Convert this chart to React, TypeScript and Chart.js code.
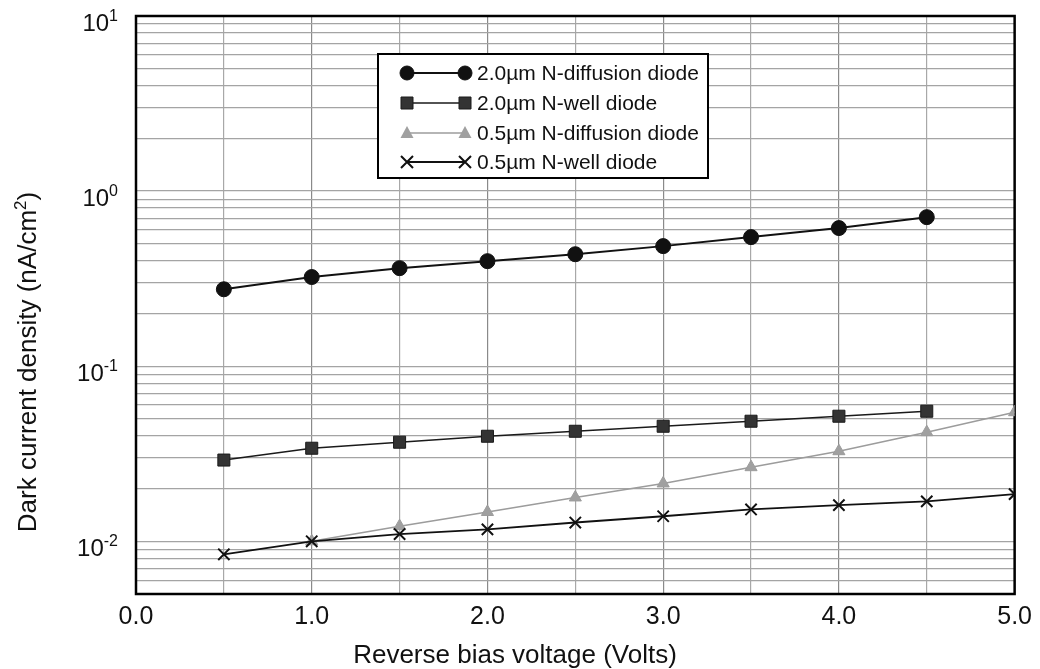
import React, { useEffect, useRef } from 'react';
import { Chart, registerables } from 'chart.js';

Chart.register(...registerables);

// ---- data ----
const voltages = [0.5, 1.0, 1.5, 2.0, 2.5, 3.0, 3.5, 4.0, 4.5, 5.0];
const nDiff20 = [0.275, 0.323, 0.363, 0.398, 0.436, 0.485, 0.546, 0.615, 0.71, null];
const nWell20 = [0.0291, 0.034, 0.0368, 0.0398, 0.0425, 0.0454, 0.0485, 0.0518, 0.0553, null];
const nDiff05 = [null, 0.0100, 0.0122, 0.0147, 0.0178, 0.0214, 0.0265, 0.0327, 0.042, 0.0546];
const nWell05 = [0.00843, 0.0100, 0.0110, 0.0117, 0.0128, 0.0139, 0.0152, 0.0161, 0.0169, 0.0186];

const seriesNames = [
  '2.0\u00b5m N-diffusion diode',
  '2.0\u00b5m N-well diode',
  '0.5\u00b5m N-diffusion diode',
  '0.5\u00b5m N-well diode',
];

const xTickValues = [0, 0.5, 1, 1.5, 2, 2.5, 3, 3.5, 4, 4.5, 5];
const yDecades = [0.01, 0.1, 1, 10];
const yDecadeExponents = ['-2', '-1', '0', '1'];
const yMinorMultipliers = [1, 2, 3, 4, 5, 6, 7, 8, 9];
const yMin = 0.005;
const yMax = 10;

const xTitle = 'Reverse bias voltage (Volts)';
const yTitleMain = 'Dark current density (nA/cm';
const yTitleSup = '2';
const yTitleEnd = ')';

const FONT = '"Liberation Sans", Arial, Helvetica, sans-serif';

function toPoints(vals: (number | null)[]) {
  const pts: { x: number; y: number }[] = [];
  vals.forEach((v, i) => {
    if (v !== null) pts.push({ x: voltages[i], y: v });
  });
  return pts;
}

function buildYTicks() {
  const t: number[] = [];
  for (let e = -3; e <= 1; e++) {
    for (const m of yMinorMultipliers) {
      const v = parseFloat((m * Math.pow(10, e)).toPrecision(6));
      if (v >= yMin - 1e-12 && v <= yMax + 1e-12) t.push(v);
    }
  }
  return t;
}

type MarkerKind = 'circle' | 'rect' | 'triangle' | 'crossRot';
const markerKinds: MarkerKind[] = ['circle', 'rect', 'triangle', 'crossRot'];
const seriesColors = ['#111111', '#1a1a1a', '#9c9c9c', '#111111'];
const markerFill = ['#111111', '#333333', '#a0a0a0', '#111111'];
const lineWidths = [2, 1.6, 1.6, 1.8];

function drawMarker(ctx: CanvasRenderingContext2D, kind: MarkerKind, x: number, y: number, i: number) {
  ctx.save();
  ctx.fillStyle = markerFill[i];
  ctx.strokeStyle = seriesColors[i];
  ctx.lineWidth = 1;
  ctx.beginPath();
  if (kind === 'circle') {
    ctx.arc(x, y, 7, 0, Math.PI * 2);
    ctx.fill();
    ctx.stroke();
  } else if (kind === 'rect') {
    ctx.rect(x - 6, y - 6, 12, 12);
    ctx.fill();
    ctx.stroke();
  } else if (kind === 'triangle') {
    ctx.moveTo(x, y - 7);
    ctx.lineTo(x + 6.5, y + 5);
    ctx.lineTo(x - 6.5, y + 5);
    ctx.closePath();
    ctx.fill();
  } else {
    ctx.lineWidth = 2;
    ctx.moveTo(x - 6, y - 6);
    ctx.lineTo(x + 6, y + 6);
    ctx.moveTo(x + 6, y - 6);
    ctx.lineTo(x - 6, y + 6);
    ctx.stroke();
  }
  ctx.restore();
}

const decorPlugin = {
  id: 'decor',
  beforeDatasetsDraw(chart: any) {
    const { ctx, chartArea } = chart;
    ctx.save();
    ctx.strokeStyle = '#000';
    ctx.lineWidth = 2.5;
    ctx.strokeRect(chartArea.left, chartArea.top, chartArea.right - chartArea.left, chartArea.bottom - chartArea.top);
    ctx.restore();
  },
  afterDraw(chart: any) {
    const { ctx } = chart;
    const yScale = chart.scales.y;
    ctx.save();

    // y tick labels with superscript exponents
    ctx.fillStyle = '#111';
    ctx.textBaseline = 'alphabetic';
    ctx.textAlign = 'left';
    yDecades.forEach((v, i) => {
      const p = yScale.getPixelForValue(v);
      ctx.font = `24px ${FONT}`;
      const wb = ctx.measureText('10').width;
      ctx.font = `16px ${FONT}`;
      const ws = ctx.measureText(yDecadeExponents[i]).width;
      const right = 118;
      ctx.font = `24px ${FONT}`;
      ctx.fillText('10', right - ws - wb, p + 14.5);
      ctx.font = `16px ${FONT}`;
      ctx.fillText(yDecadeExponents[i], right - ws, p + 5);
    });

    // x title
    ctx.font = `26px ${FONT}`;
    ctx.textAlign = 'center';
    ctx.textBaseline = 'alphabetic';
    ctx.fillText(xTitle, 515, 663);

    // y title (rotated) with superscript
    ctx.save();
    ctx.translate(29, 362);
    ctx.rotate(-Math.PI / 2);
    ctx.textAlign = 'left';
    ctx.textBaseline = 'middle';
    ctx.font = `26px ${FONT}`;
    const w1 = ctx.measureText(yTitleMain).width;
    const w3 = ctx.measureText(yTitleEnd).width;
    ctx.font = `17px ${FONT}`;
    const w2 = ctx.measureText(yTitleSup).width;
    const total = w1 + w2 + w3;
    let cx = -total / 2;
    ctx.font = `26px ${FONT}`;
    ctx.fillText(yTitleMain, cx, 0);
    cx += w1;
    ctx.font = `17px ${FONT}`;
    ctx.fillText(yTitleSup, cx, -8);
    cx += w2;
    ctx.font = `26px ${FONT}`;
    ctx.fillText(yTitleEnd, cx, 0);
    ctx.restore();

    // legend box
    const bx = 378, by = 54, bw = 330, bh = 124;
    ctx.fillStyle = '#fff';
    ctx.fillRect(bx, by, bw, bh);
    ctx.strokeStyle = '#000';
    ctx.lineWidth = 2;
    ctx.strokeRect(bx, by, bw, bh);
    const rows = [73, 103, 133, 162];
    seriesNames.forEach((name, i) => {
      const y = rows[i];
      ctx.strokeStyle = seriesColors[i];
      ctx.lineWidth = lineWidths[i];
      ctx.beginPath();
      ctx.moveTo(407, y);
      ctx.lineTo(465, y);
      ctx.stroke();
      drawMarker(ctx, markerKinds[i], 407, y, i);
      drawMarker(ctx, markerKinds[i], 465, y, i);
      ctx.fillStyle = '#111';
      ctx.font = `21px ${FONT}`;
      ctx.textAlign = 'left';
      ctx.textBaseline = 'middle';
      ctx.fillText(name, 477, y + 1);
    });
    ctx.restore();
  },
};

export default function App() {
  const canvasRef = useRef<HTMLCanvasElement | null>(null);

  useEffect(() => {
    document.body.style.margin = '0';
    const canvas = canvasRef.current;
    if (!canvas) return;
    const yTicks = buildYTicks();
    const series = [nDiff20, nWell20, nDiff05, nWell05];
    const datasets = series.map((vals, i) => ({
      label: seriesNames[i],
      data: toPoints(vals),
      borderColor: seriesColors[i],
      backgroundColor: markerFill[i],
      borderWidth: lineWidths[i],
      pointStyle: markerKinds[i],
      pointRadius: i === 0 ? 7.5 : i === 1 ? 8.5 : i === 2 ? 7 : 8,
      pointBorderWidth: i === 3 ? 2 : 1,
      pointBorderColor: seriesColors[i],
      pointBackgroundColor: markerFill[i],
      tension: 0,
      fill: false,
      order: i === 3 ? 0 : i + 1,
    }));

    const chart = new Chart(canvas, {
      type: 'line',
      data: { datasets },
      plugins: [decorPlugin],
      options: {
        animation: false,
        responsive: true,
        maintainAspectRatio: false,
        layout: { padding: { top: 16, right: 24, left: 0, bottom: 0 } },
        plugins: {
          legend: { display: false },
          tooltip: { enabled: false },
          title: { display: false },
        },
        scales: {
          x: {
            type: 'linear',
            min: 0,
            max: 5,
            afterBuildTicks: (scale: any) => {
              scale.ticks = xTickValues.map((v) => ({ value: v }));
            },
            afterFit: (scale: any) => {
              scale.height = 75;
            },
            ticks: {
              autoSkip: false,
              maxRotation: 0,
              minRotation: 0,
              padding: 8,
              color: '#111',
              font: { family: FONT, size: 25 },
              callback: (v: any) => (Math.abs(v - Math.round(v)) < 1e-9 ? Number(v).toFixed(1) : ''),
            },
            grid: {
              drawTicks: false,
              color: (c: any) => {
                const v = c.tick ? c.tick.value : 0;
                return Math.abs(v - Math.round(v)) < 1e-9 ? '#8a8a8a' : '#a8a8a8';
              },
              lineWidth: 1.2,
            },
            border: { display: false },
          },
          y: {
            type: 'logarithmic',
            min: yMin,
            max: yMax,
            afterBuildTicks: (scale: any) => {
              scale.ticks = yTicks.map((v) => ({ value: v }));
            },
            afterFit: (scale: any) => {
              scale.width = 136;
            },
            ticks: { display: false, autoSkip: false },
            grid: {
              drawTicks: false,
              color: '#a4a4a4',
              lineWidth: 1.2,
            },
            border: { display: false },
          },
        },
      },
    } as any);
    return () => chart.destroy();
  }, []);

  return (
    <div style={{ width: 1040, height: 669, position: 'relative', background: '#fff' }}>
      <canvas ref={canvasRef} />
    </div>
  );
}
